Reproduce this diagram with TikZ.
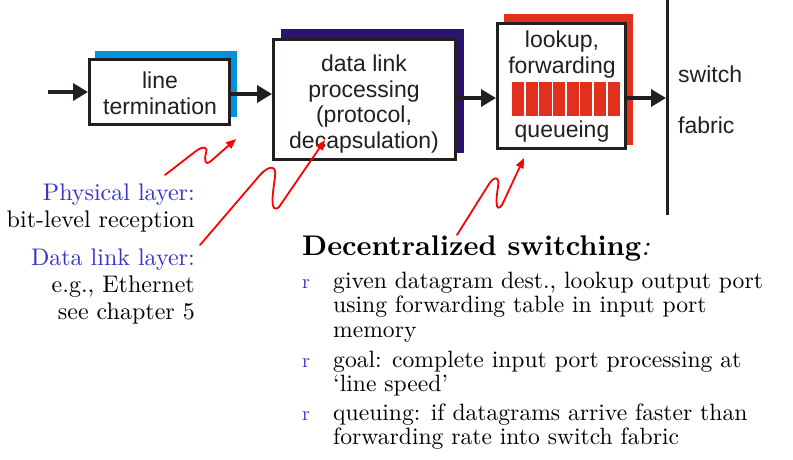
\documentclass[tikz,border=0pt]{standalone}
\usepackage{fontspec}
\setmainfont{lmroman10-regular.otf}[BoldFont=lmroman10-bold.otf, ItalicFont=lmroman10-italic.otf, BoldItalicFont=lmroman10-bolditalic.otf]
\newfontfamily\arialf{Liberation Sans}
\usetikzlibrary{arrows.meta,calc}
\definecolor{ink}{HTML}{231F20}
\definecolor{shblue}{HTML}{0092DF}
\definecolor{shnavy}{HTML}{2B1370}
\definecolor{shred}{HTML}{E1301E}
\definecolor{txtblue}{HTML}{3333CC}
\begin{document}
\begin{tikzpicture}[x=1pt,y=-1pt,
  boxframe/.style={draw=ink, line width=3pt, fill=white, rectangle, inner sep=0pt},
  boxtxt/.style={font=\arialf\fontsize{23}{25.7}\selectfont, align=center, inner sep=0pt, text=ink},
  flow/.style={draw=ink, line width=3.5pt, -{Triangle[length=15pt,width=17pt]}},
  squig/.style={draw=red, line width=1.8pt, line cap=round, line join=round, -{Triangle[length=10pt,width=8pt]}},
  sidetxt/.style={font=\fontsize{24}{27}\selectfont, align=right, inner sep=0pt},
  bultxt/.style={font=\fontsize{23.6}{24.5}\selectfont, align=left, inner sep=0pt, anchor=north west},
  bulmark/.style={font=\fontsize{20}{20}\selectfont, text=txtblue, inner sep=0pt, anchor=base west}]
\useasboundingbox (0,0) rectangle (793,459);

% shadows
\fill[shblue] (95,51) rectangle (237,117);
\fill[shnavy] (281,29) rectangle (464,153);
\fill[shred] (504,14) rectangle (633,145);

% boxes
\node[boxframe, minimum width=140pt, minimum height=65pt] (lt) at (159.5,92) {};
\node[boxframe, minimum width=182pt, minimum height=120pt] (dl) at (364.5,99.5) {};
\node[boxframe, minimum width=128pt, minimum height=125pt] (lk) at (561.5,86) {};

% queue bars
\foreach \i in {0,...,7}
  \fill[shred] ({512+\i*13.65},82) rectangle ({512+\i*13.65+12.2},116);

% box texts
\node[boxtxt, anchor=north] (ltt) at (160,71.5) {line\\termination};
\node[boxtxt, anchor=north] (dlt) at (364,54.5) {data link\\processing\\(protocol,\\decapsulation)};
\node[boxtxt, anchor=north] (lkt) at (562,30.5) {lookup,\\forwarding};
\node[boxtxt, anchor=base] (lkq) at (562,137) {queueing};

% switch fabric
\coordinate (ftop) at (667,0);
\coordinate (fbot) at (667,215);
\draw[ink, line width=3pt] (ftop) -- (fbot);
\node[boxtxt, anchor=base west] (sw) at (678,82) {switch};
\node[boxtxt, anchor=base west] (fb) at (678,133) {fabric};

% flow arrows
\coordinate (in) at (48,92);
\coordinate (fab) at (666,98);
\draw[flow] (in) -- (lt.west|-in);
\draw[flow] (lt.east|-0,94) -- (dl.west|-0,94);
\draw[flow] (dl.east|-0,98) -- (lk.west|-0,98);
\draw[flow] (lk.east|-fab) -- (fab);

% left annotations
\node[sidetxt, anchor=north east] (phy) at (195,183.3) {{\color{txtblue}Physical layer:}\\bit-level reception};
\node[sidetxt, anchor=north east] (dll) at (195,248.3) {{\color{txtblue}Data link layer:}\\e.g., Ethernet\\see chapter 5};

% red squiggle arrows
\coordinate (s1) at (165,175);
\coordinate (e1) at (236,139);
\draw[squig] (s1) -- (196,151) .. controls (203,146) and (208,146) .. (206,153)
  .. controls (204,161) and (205,166) .. (211,161) -- (e1);
\coordinate (s2) at (200,245);
\coordinate (e2) at (325,140);
\draw[squig] (s2) -- (260,175) .. controls (268,166) and (277,164) .. (275,177)
  .. controls (273,192) and (269,215) .. (279,207) -- (e2);
\coordinate (s3) at (457,235);
\coordinate (e3) at (524,158);
\draw[squig] (s3) -- (489,184) .. controls (494,176) and (500,176) .. (498,187)
  .. controls (496,199) and (495,214) .. (502,205) -- (e3);

% heading and bullets
\node[inner sep=0pt, anchor=base west, font=\fontsize{28.4}{30}\selectfont] (head) at (302,255) {\bfseries Decentralized switching\mdseries\textit{:}};
\node[bulmark] (b1) at (302,288) {r};
\node[bultxt] (t1) at (333,271.6) {given datagram dest., lookup output port\\using forwarding table in input port\\memory};
\node[bulmark] (b2) at (302,367) {r};
\node[bultxt] (t2) at (333,350.6) {goal: complete input port processing at\\‘line speed’};
\node[bulmark] (b3) at (302,420) {r};
\node[bultxt] (t3) at (333,403.6) {queuing: if datagrams arrive faster than\\forwarding rate into switch fabric};
\end{tikzpicture}
\end{document}
